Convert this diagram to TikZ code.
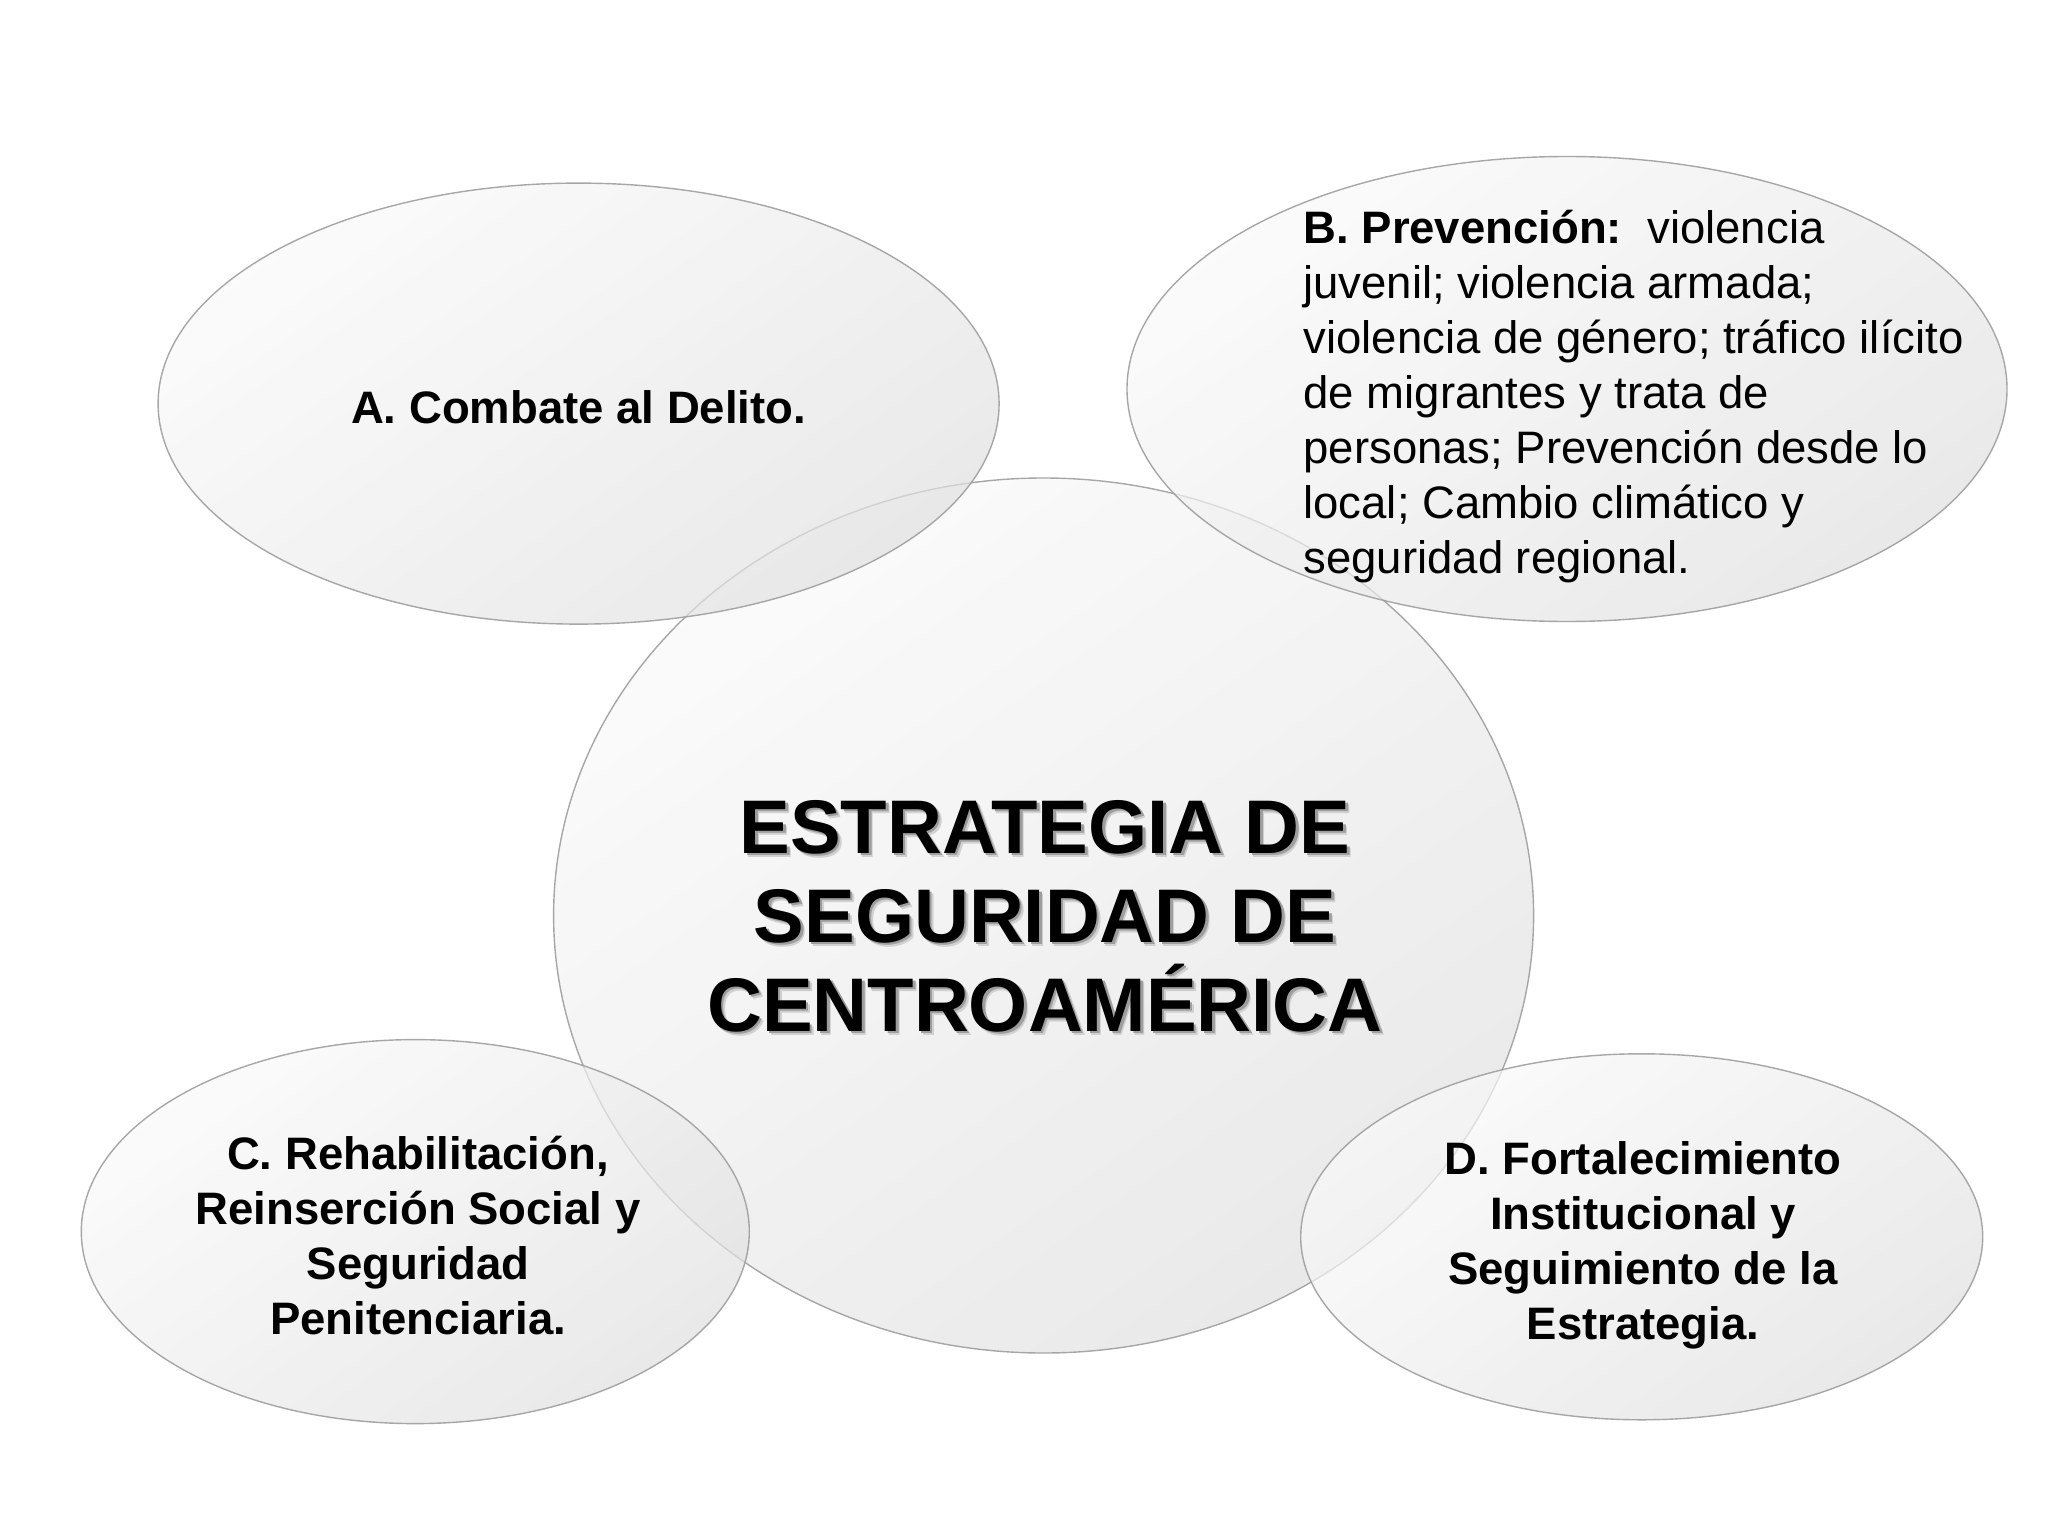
\documentclass[tikz,border=0pt]{standalone}
\usepackage{fontspec}
\setmainfont{Liberation Sans}
\usetikzlibrary{shapes.geometric}
\newcommand\shdtxt[1]{\makebox[0pt][l]{\hspace{4pt}\raisebox{-4pt}{\textcolor{black!18}{#1}}}\makebox[0pt][l]{\hspace{2.5pt}\raisebox{-2.5pt}{\textcolor{black!38}{#1}}}#1}
\begin{document}
\begin{tikzpicture}[x=1pt,y=-1pt,
  bubble/.style={ellipse, draw=black!38, line width=1.4pt, inner sep=0pt,
    shade, shading=axis, top color=black!2, bottom color=black!12, shading angle=35,
    fill opacity=0.7, draw opacity=0.9},
  txt/.style={text=black, align=center, font=\fontsize{45.5}{55}\selectfont\bfseries},
  btxt/.style={text=black, align=left, anchor=north west, font=\fontsize{45.5}{55}\selectfont},
  ttl/.style={align=center, font=\fontsize{76}{89}\selectfont\bfseries}]
\useasboundingbox[fill=white] (0,0) rectangle (2048,1536);
% shapes
\node[bubble, minimum width=980pt, minimum height=875pt] (center) at (1043.6,915.5) {};
\node[bubble, minimum width=841pt, minimum height=441pt] (a) at (578.6,403.6) {};
\node[bubble, minimum width=880pt, minimum height=465pt] (b) at (1567,389) {};
\node[bubble, minimum width=668pt, minimum height=384pt] (c) at (415.3,1231.6) {};
\node[bubble, minimum width=682pt, minimum height=366pt] (d) at (1641.7,1236.8) {};
% texts
\node[txt] (ta) at (578.6,407) {A. Combate al Delito.};
\node[btxt] (tb) at (1300,207) {\textbf{B. Prevención:}\ \ violencia\\juvenil; violencia armada;\\violencia de género; tráfico ilícito\\de migrantes y trata de\\personas; Prevención desde lo\\local; Cambio climático y\\seguridad regional.};
\node[txt] (tc) at (418,1236) {C. Rehabilitación,\\Reinserción Social y\\Seguridad\\Penitenciaria.};
\node[txt] (td) at (1643,1245) {D. Fortalecimiento\\Institucional y\\Seguimiento de la\\Estrategia.};
\node[ttl, text=black] (title) at (1045,918) {\shdtxt{ESTRATEGIA DE}\\\shdtxt{SEGURIDAD DE}\\\shdtxt{CENTROAMÉRICA}};
\end{tikzpicture}
\end{document}
